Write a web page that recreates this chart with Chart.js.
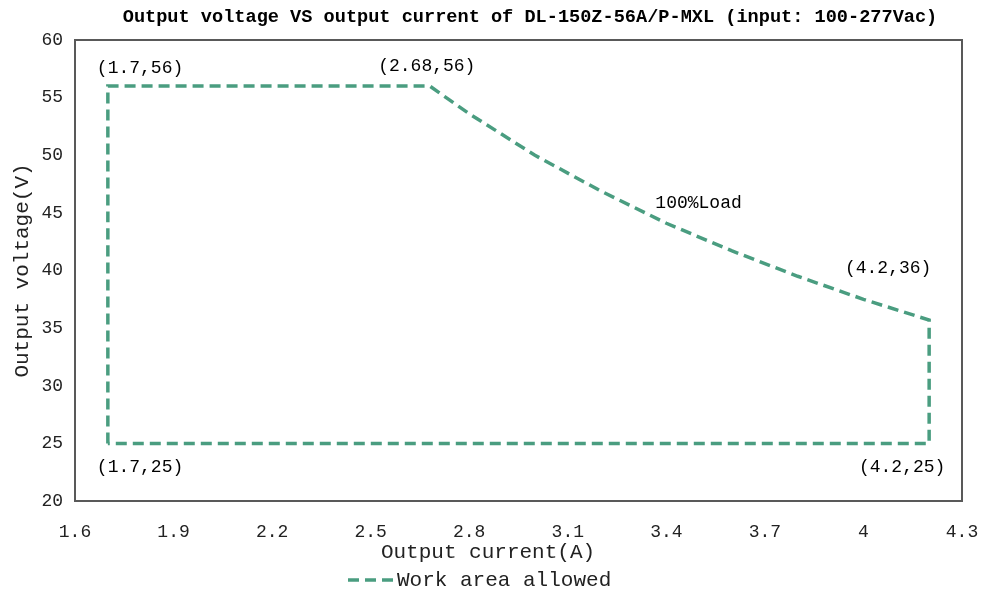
<!DOCTYPE html>
<html>
<head>
<meta charset="utf-8">
<script src="https://cdn.jsdelivr.net/npm/chart.js@4"></script>
<style>
  html, body { margin: 0; padding: 0; background: #fff; }
  #wrap { width: 981px; height: 599px; }
</style>
</head>
<body>
<div id="wrap"><canvas id="myChart"></canvas></div>
<script>
// data
const current = [1.7, 1.7, 2.68, 2.8, 3.0, 3.2, 3.4, 3.6, 3.8, 4.0, 4.2, 4.2, 1.7];
const voltage = [25, 56, 56, 53.6, 50, 46.9, 44.1, 41.7, 39.5, 37.5, 35.7, 25, 25];
const xTicks = [1.6, 1.9, 2.2, 2.5, 2.8, 3.1, 3.4, 3.7, 4, 4.3];
const yTicks = [20, 25, 30, 35, 40, 45, 50, 55, 60];
const noteText = ['(1.7,56)', '(2.68,56)', '100%Load', '(4.2,36)', '(1.7,25)', '(4.2,25)'];
const noteX = [1.7, 2.68, 3.4, 4.2, 1.7, 4.2];
const noteY = [56, 56, 45, 36, 25, 25];

const titleText = 'Output voltage VS output current of DL-150Z-56A/P-MXL (input: 100-277Vac)';
const lineColor = '#4a9d80';
const FONT = '"Liberation Mono", monospace';

// label offsets in pixels (dx, dy, align)
const noteOffs = [
  [-11, -18, 'left'], [-3, -20, 'center'], [-11, -10, 'left'],
  [-41, -48, 'center'], [-11, 24, 'left'], [-27, 24, 'center']
];

const points = current.map((c, i) => ({ x: c, y: voltage[i] }));

const extras = {
  id: 'extras',
  beforeDatasetsDraw(chart) {
    const { ctx, chartArea: a } = chart;
    ctx.save();
    ctx.strokeStyle = '#595959';
    ctx.lineWidth = 2;
    ctx.strokeRect(a.left, a.top, a.right - a.left, a.bottom - a.top);
    ctx.restore();
  },
  afterDraw(chart) {
    const { ctx } = chart;
    const xs = chart.scales.x, ys = chart.scales.y;
    ctx.save();
    ctx.fillStyle = '#000';
    ctx.textBaseline = 'middle';
    // title
    ctx.font = 'bold 18.6px ' + FONT;
    ctx.textAlign = 'center';
    ctx.fillText(titleText, 530, 17);
    // notes
    ctx.font = '18px ' + FONT;
    noteText.forEach((t, i) => {
      const o = noteOffs[i];
      ctx.textAlign = o[2];
      ctx.fillText(t, xs.getPixelForValue(noteX[i]) + o[0], ys.getPixelForValue(noteY[i]) + o[1]);
    });
    // x axis title
    ctx.font = '21px ' + FONT;
    ctx.textAlign = 'center';
    ctx.fillStyle = '#222';
    ctx.fillText('Output current(A)', 488, 552);
    // legend
    ctx.strokeStyle = lineColor;
    ctx.lineWidth = 3.5;
    ctx.setLineDash([11, 6]);
    ctx.beginPath();
    ctx.moveTo(348, 580);
    ctx.lineTo(393, 580);
    ctx.stroke();
    ctx.textAlign = 'left';
    ctx.fillText('Work area allowed', 397, 580);
    ctx.restore();
  }
};

const config = {
  type: 'line',
  data: {
    datasets: [{
      label: 'Work area allowed',
      data: points,
      borderColor: lineColor,
      backgroundColor: lineColor,
      borderWidth: 3.5,
      borderDash: [11, 6],
      pointRadius: 0,
      tension: 0,
      fill: false
    }]
  },
  options: {
    responsive: true,
    maintainAspectRatio: false,
    animation: false,
    layout: { padding: { top: 40, right: 19, left: 0, bottom: 0 } },
    plugins: {
      legend: { display: false },
      tooltip: { enabled: false }
    },
    scales: {
      x: {
        type: 'linear',
        min: 1.6,
        max: 4.3,
        afterBuildTicks: s => { s.ticks = xTicks.map(v => ({ value: v })); },
        afterFit: s => { s.height = 98; s.paddingRight = 0; s.paddingLeft = 0; },
        grid: { display: false, drawTicks: false },
        border: { display: false },
        ticks: {
          padding: 20, color: '#222', font: { family: FONT, size: 18 },
          callback: v => String(Math.round(v * 10) / 10)
        }
      },
      y: {
        min: 20,
        max: 60,
        afterBuildTicks: s => { s.ticks = yTicks.map(v => ({ value: v })); },
        afterFit: s => { s.width = 75; s.paddingTop = 0; s.paddingBottom = 0; },
        grid: { display: false, drawTicks: false },
        border: { display: false },
        ticks: { padding: 12, color: '#222', font: { family: FONT, size: 18 } },
        title: {
          display: true,
          text: 'Output voltage(V)',
          color: '#222',
          padding: { top: 10, bottom: 0 },
          font: { family: FONT, size: 21 }
        }
      }
    }
  },
  plugins: [extras]
};

const myChart = new Chart(document.getElementById('myChart'), config);
</script>
</body>
</html>
